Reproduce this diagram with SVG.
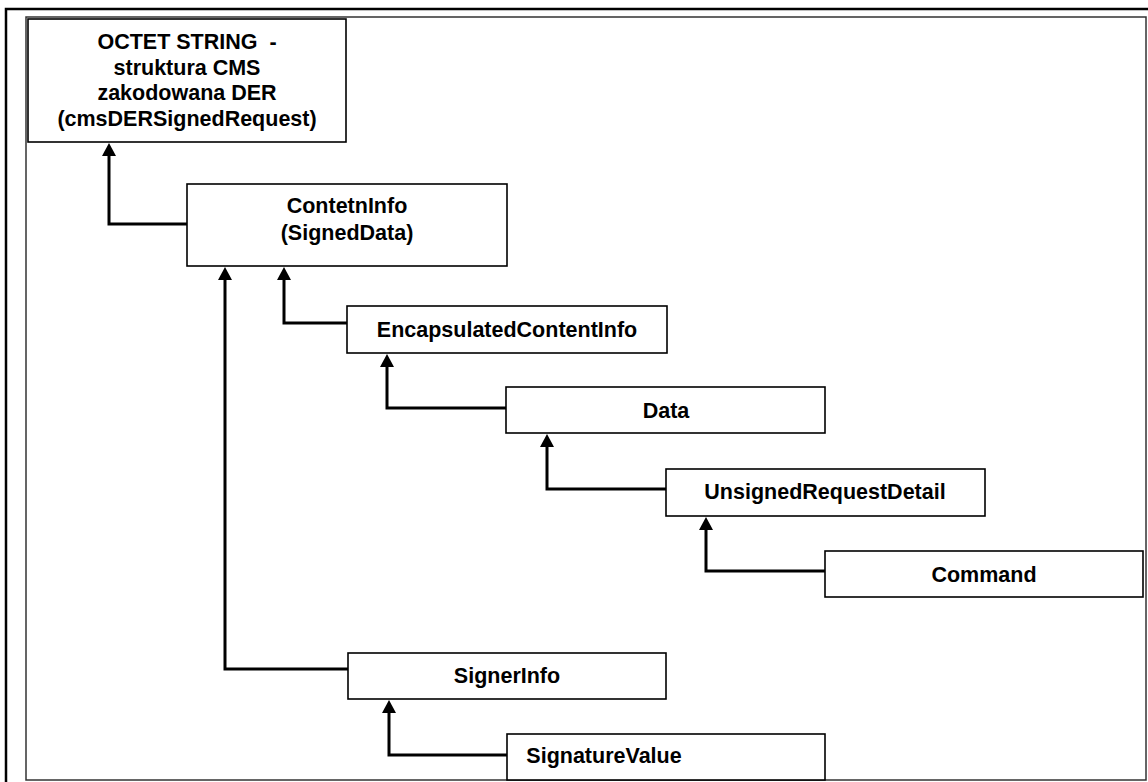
<svg xmlns="http://www.w3.org/2000/svg" width="1148" height="782" viewBox="0 0 1148 782">
  <defs>
    <marker id="arrow" viewBox="0 0 13 14" refX="9" refY="7" markerWidth="13" markerHeight="14" markerUnits="userSpaceOnUse" orient="auto">
      <path d="M0,0 L13,7 L0,14 z" fill="#000"/>
    </marker>
    <style>
      .box { fill: #fff; stroke: #000; stroke-width: 1.6; }
      .lbl { font-family: "Liberation Sans", Arial, sans-serif; font-weight: bold; font-size: 21.5px; fill: #000; text-anchor: middle; }
      .conn { fill: none; stroke: #000; stroke-width: 3; stroke-linejoin: miter; marker-end: url(#arrow); }
    </style>
  </defs>
  <rect width="1148" height="782" fill="#fff"/>
  <g id="frame">
    <path d="M6,782 V9 H1148" fill="none" stroke="#000" stroke-width="2.5"/>
    <rect x="26" y="17" width="1120" height="763" fill="none" stroke="#333" stroke-width="1.5"/>
  </g>
  <g id="connectors">
    <path class="conn" d="M188,224 H109 V147"/>
    <path class="conn" d="M347,323 H284 V271"/>
    <path class="conn" d="M348,669 H225 V271"/>
    <path class="conn" d="M506,408 H387 V358"/>
    <path class="conn" d="M666,489 H547 V438"/>
    <path class="conn" d="M825,571 H706 V521"/>
    <path class="conn" d="M507,755 H389 V704"/>
  </g>
  <g id="octet">
    <rect class="box" x="28" y="19" width="318" height="123"/>
    <text class="lbl" x="187" y="49" xml:space="preserve">OCTET STRING&#160; -</text>
    <text class="lbl" x="187" y="75">struktura CMS</text>
    <text class="lbl" x="187" y="100">zakodowana DER</text>
    <text class="lbl" x="187" y="126">(cmsDERSignedRequest)</text>
  </g>
  <g id="contentinfo">
    <rect class="box" x="187" y="184" width="320" height="82"/>
    <text class="lbl" x="347" y="213">ContetnInfo</text>
    <text class="lbl" x="347" y="240">(SignedData)</text>
  </g>
  <g id="encapsulated">
    <rect class="box" x="347" y="306" width="320" height="47"/>
    <text class="lbl" x="507" y="337">EncapsulatedContentInfo</text>
  </g>
  <g id="data">
    <rect class="box" x="506" y="387" width="319" height="46"/>
    <text class="lbl" x="666" y="418">Data</text>
  </g>
  <g id="unsigned">
    <rect class="box" x="666" y="469" width="319" height="47"/>
    <text class="lbl" x="825" y="499">UnsignedRequestDetail</text>
  </g>
  <g id="command">
    <rect class="box" x="825" y="551" width="318" height="46"/>
    <text class="lbl" x="984" y="582">Command</text>
  </g>
  <g id="signerinfo">
    <rect class="box" x="348" y="653" width="318" height="46"/>
    <text class="lbl" x="507" y="683">SignerInfo</text>
  </g>
  <g id="signaturevalue">
    <rect class="box" x="507" y="734" width="318" height="46"/>
    <text class="lbl" x="604" y="763">SignatureValue</text>
  </g>
</svg>
